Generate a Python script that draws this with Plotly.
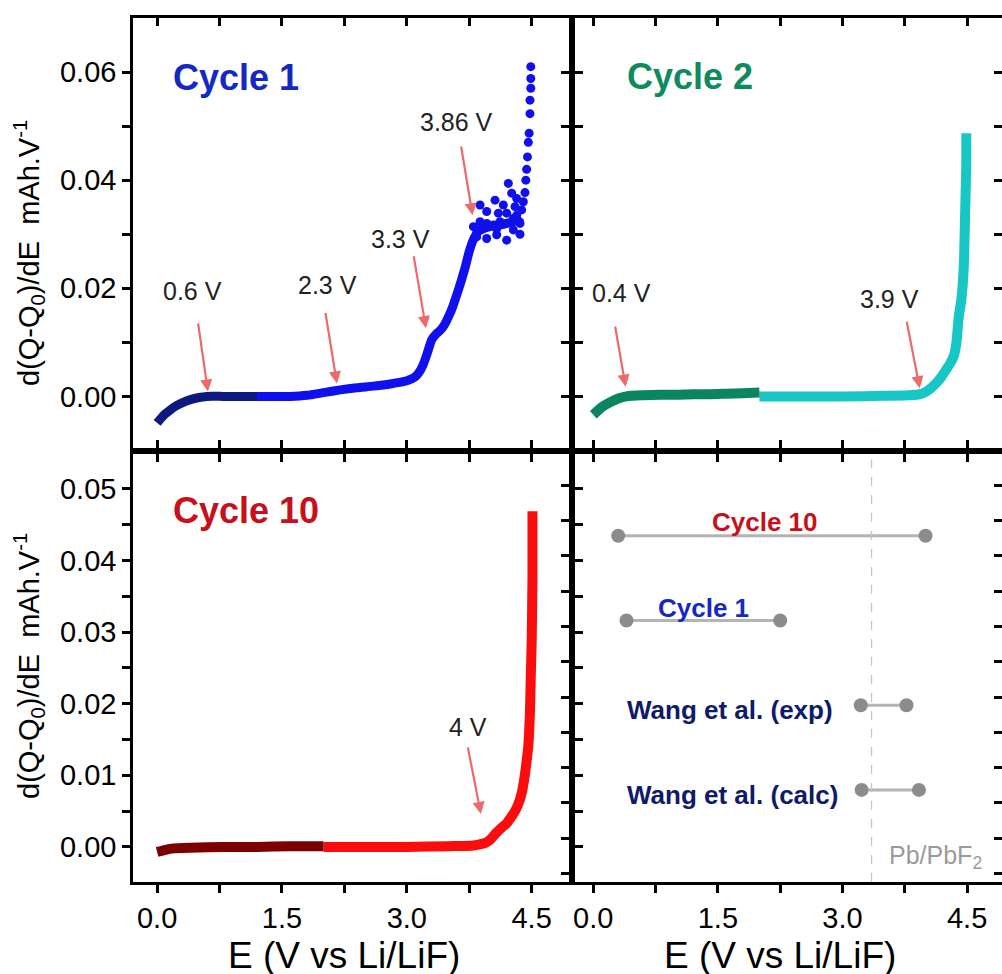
import plotly.graph_objects as go

FONT = "Liberation Sans, Arial, Helvetica, sans-serif"

# ---------------- data ----------------
# Cycle 1: dark segment (0 - 1.2 V)
c1_dark_E = [0.00, 0.05, 0.10, 0.15, 0.20, 0.30, 0.40, 0.50, 0.60, 0.80, 1.00, 1.20]
c1_dark_v = [-0.0049, -0.0040, -0.0032, -0.0026, -0.0020, -0.0012, -0.0006, -0.0002, 0.0000, 0.0000, 0.0000, 0.0000]
# Cycle 1: blue smooth segment
c1_E = [1.20, 1.40, 1.60, 1.80, 2.00, 2.20, 2.40, 2.60, 2.80, 3.00, 3.10, 3.15, 3.20, 3.25, 3.30,
        3.35, 3.40, 3.45, 3.50, 3.55, 3.60, 3.65, 3.70, 3.75, 3.80, 3.86, 3.95, 4.05, 4.15, 4.25, 4.33, 4.37]
c1_v = [0.0000, 0.0000, 0.0000, 0.0002, 0.0007, 0.0012, 0.0016, 0.0019, 0.0023, 0.0029, 0.0036, 0.0045,
        0.0060, 0.0082, 0.0105, 0.0115, 0.0122, 0.0132, 0.0147, 0.0165, 0.0188, 0.0212, 0.0238, 0.0268,
        0.0290, 0.0305, 0.0312, 0.0316, 0.0318, 0.0322, 0.0326, 0.0332]
# Cycle 1: scattered points (plateau and final rise)
c1_pts_E = [3.80, 3.84, 3.88, 3.96, 4.04, 4.08, 4.12, 4.20, 4.28, 4.32, 3.84, 3.96, 4.08, 4.20, 4.28,
            3.88, 3.96, 4.06, 4.10, 4.22, 4.26, 4.32, 4.30, 4.16, 4.20, 4.36, 4.36, 4.38, 4.40,
            4.42, 4.43, 4.44, 4.45, 4.46, 4.47, 4.48, 4.48, 4.49, 4.49, 4.49]
c1_pts_v = [0.0314, 0.0295, 0.0323, 0.0320, 0.0317, 0.0299, 0.0323, 0.0320, 0.0329, 0.0335, 0.0308, 0.0292,
            0.0310, 0.0289, 0.0308, 0.0354, 0.0342, 0.0363, 0.0339, 0.0394, 0.0376, 0.0366, 0.0351, 0.0354,
            0.0339, 0.0320, 0.0300, 0.0345, 0.0360, 0.0377, 0.0400, 0.0420, 0.0443, 0.0470, 0.0487, 0.0523,
            0.0548, 0.0570, 0.0588, 0.0610]

# Cycle 2
c2_dark_E = [0.00, 0.05, 0.10, 0.20, 0.30, 0.40, 0.60, 0.80, 1.00, 1.20, 1.40, 1.60, 1.80, 2.00]
c2_dark_v = [-0.0034, -0.0027, -0.0020, -0.0011, -0.0004, 0.0000, 0.0002, 0.0003, 0.0003, 0.0004,
             0.0004, 0.0005, 0.0006, 0.0007]
c2_E = [2.00, 2.50, 3.00, 3.50, 3.80, 3.89, 3.95, 4.01, 4.07, 4.13, 4.19, 4.25, 4.30, 4.34, 4.37,
        4.40, 4.43, 4.46, 4.47, 4.48, 4.49, 4.49]
c2_v = [0.0000, 0.0000, 0.0000, 0.0001, 0.0002, 0.0003, 0.0005, 0.0009, 0.0016, 0.0025, 0.0036, 0.0050,
        0.0062, 0.0075, 0.0098, 0.0148, 0.0178, 0.0240, 0.0300, 0.0363, 0.0430, 0.0487]

# Cycle 10
c10_dark_E = [0.00, 0.10, 0.20, 0.40, 0.80, 1.20, 1.60, 2.00]
c10_dark_v = [-0.0007, -0.0004, -0.0002, -0.0001, 0.0000, 0.0000, 0.0001, 0.0001]
c10_E = [2.00, 2.50, 3.00, 3.50, 3.80, 3.95, 4.00, 4.07, 4.14, 4.20, 4.25, 4.30, 4.34, 4.38, 4.41,
         4.44, 4.46, 4.48, 4.49, 4.50, 4.51, 4.51]
c10_v = [0.0000, 0.0000, 0.0000, 0.0001, 0.0002, 0.0006, 0.0010, 0.0019, 0.0027, 0.0033, 0.0041, 0.0050,
         0.0060, 0.0075, 0.0094, 0.0120, 0.0141, 0.0189, 0.0240, 0.0284, 0.0378, 0.0469]

# Ranges of redox activity (bottom-right panel)
range_labels = ["Cycle 10", "Cycle 1", "Wang et al. (exp)", "Wang et al. (calc)"]
range_rows = [4, 3, 2, 1]
range_lo = [0.30, 0.40, 3.22, 3.23]
range_hi = [4.00, 2.25, 3.77, 3.92]
pb_pbf2 = 3.35

# Peak annotations: (label, text E, text v, tail E, tail v, head E, head v)
ann_c1 = [("0.6 V", 0.42, 0.0195, 0.49, 0.0138, 0.61, 0.0009),
          ("2.3 V", 2.05, 0.0206, 2.02, 0.0157, 2.16, 0.0024),
          ("3.3 V", 2.93, 0.0292, 3.08, 0.0262, 3.23, 0.0126),
          ("3.86 V", 3.60, 0.0508, 3.65, 0.0465, 3.79, 0.0335)]
ann_c2 = [("0.4 V", 0.34, 0.0191, 0.26, 0.0132, 0.39, 0.0018),
          ("3.9 V", 3.57, 0.0181, 3.77, 0.0141, 3.93, 0.0015)]
ann_c10 = [("4 V", 3.74, 0.0167, 3.73, 0.0141, 3.89, 0.0046)]

# ---------------- figure ----------------
fig = go.Figure()

def line(x, y, color, width, xa, ya):
    fig.add_trace(go.Scatter(x=x, y=y, mode="lines",
                             line=dict(color=color, width=width, shape="spline", smoothing=0.6),
                             xaxis=xa, yaxis=ya, showlegend=False, hoverinfo="skip"))

line(c1_dark_E, c1_dark_v, "#0c1a80", 9, "x", "y")
line(c1_E, c1_v, "#1010ee", 9, "x", "y")
fig.add_trace(go.Scatter(x=c1_pts_E, y=c1_pts_v, mode="markers",
                         marker=dict(color="#1010ee", size=9, line=dict(width=0)),
                         xaxis="x", yaxis="y", showlegend=False))

line(c2_E, c2_v, "#19c6c6", 10, "x2", "y2")
line(c2_dark_E, c2_dark_v, "#0b8460", 10, "x2", "y2")

line(c10_E, c10_v, "#fb0d0d", 10, "x3", "y3")
line(c10_dark_E, c10_dark_v, "#7c0000", 10, "x3", "y3")

for lab, r, lo, hi in zip(range_labels, range_rows, range_lo, range_hi):
    fig.add_trace(go.Scatter(x=[lo, hi], y=[r, r], mode="lines+markers",
                             line=dict(color="#b4b4b4", width=3),
                             marker=dict(color="#8c8c8c", size=14),
                             xaxis="x4", yaxis="y4", showlegend=False))

# empty traces so that the extra (inward-tick) edge axes are drawn
for xa, ya in [("x5", "y"), ("x6", "y2"), ("x2", "y5"), ("x4", "y6")]:
    fig.add_trace(go.Scatter(x=[None], y=[None], xaxis=xa, yaxis=ya, showlegend=False,
                             hoverinfo="skip"))

# ---------------- axes ----------------
xl = [133 / 1002, 572 / 1002]
xr = [572 / 1002, 1.0]
yt = [1 - 451 / 974, 1 - 18 / 974]
yb = [1 - 882 / 974, 1 - 451 / 974]
XL_R = [-0.29, 4.985]
XR_R = [-0.256, 4.92]
YT_R = [-0.0101, 0.0700]
YB_R = [-0.0049, 0.0553]
Y4_R = [-0.087, 5.0]

ax_common = dict(showline=True, linecolor="black", linewidth=2.5, mirror="ticks",
                 ticks="outside", ticklen=8, tickwidth=2.5, tickcolor="black",
                 showgrid=False, zeroline=False,
                 tickfont=dict(family=FONT, size=29, color="black"))
edge_common = dict(showline=False, ticks="inside", ticklen=8, tickwidth=2.5, tickcolor="black",
                   showgrid=False, zeroline=False, showticklabels=False)

xt_vals = [0, 0.75, 1.5, 2.25, 3.0, 3.75, 4.5]
xt_text = ["0.0", "", "1.5", "", "3.0", "", "4.5"]
yt_vals = [0, 0.01, 0.02, 0.03, 0.04, 0.05, 0.06]

fig.update_layout(
    width=1002, height=974, margin=dict(l=0, r=0, t=0, b=0),
    paper_bgcolor="white", plot_bgcolor="white",
    xaxis=dict(ax_common, domain=xl, range=XL_R, anchor="y", mirror=True,
               tickvals=xt_vals, showticklabels=False),
    yaxis=dict(ax_common, domain=yt, range=YT_R, anchor="x",
               tickvals=yt_vals, ticktext=["0.00", "", "0.02", "", "0.04", "", "0.06"]),
    xaxis2=dict(ax_common, domain=xr, range=XR_R, anchor="y2", mirror=True,
                tickvals=xt_vals, showticklabels=False),
    yaxis2=dict(ax_common, domain=yt, range=YT_R, anchor="x2", mirror=False,
                tickvals=yt_vals, showticklabels=False),
    xaxis3=dict(ax_common, domain=xl, range=XL_R, anchor="y3",
                tickvals=xt_vals, ticktext=xt_text),
    yaxis3=dict(ax_common, domain=yb, range=YB_R, anchor="x3",
                tickvals=[0, 0.005, 0.01, 0.015, 0.02, 0.025, 0.03, 0.035, 0.04, 0.045, 0.05],
                ticktext=["0.00", "", "0.01", "", "0.02", "", "0.03", "", "0.04", "", "0.05"]),
    xaxis4=dict(ax_common, domain=xr, range=XR_R, anchor="y4",
                tickvals=xt_vals, ticktext=xt_text),
    yaxis4=dict(ax_common, domain=yb, range=Y4_R, anchor="x4", mirror=False,
                tick0=0.43, dtick=0.4166, showticklabels=False),
    # inward ticks on the outer top / right edges
    xaxis5=dict(edge_common, overlaying="x", side="top", anchor="y", range=XL_R, tickvals=xt_vals),
    xaxis6=dict(edge_common, overlaying="x2", side="top", anchor="y2", range=XR_R, tickvals=xt_vals),
    yaxis5=dict(edge_common, overlaying="y2", side="right", anchor="x2", range=YT_R, tickvals=yt_vals),
    yaxis6=dict(edge_common, overlaying="y4", side="right", anchor="x4", range=Y4_R,
                tick0=0.43, dtick=0.4166),
)

# dashed Pb/PbF2 line
fig.add_shape(type="line", xref="x4", yref="y4 domain", x0=pb_pbf2, x1=pb_pbf2, y0=0, y1=0.98,
              line=dict(color="#c4c4c4", width=1.2, dash="dash"))

ann = []
def txt(x, y, text, xref, yref, size, color, bold=False, xanchor="center", yanchor="middle", angle=0):
    ann.append(dict(x=x, y=y, xref=xref, yref=yref, text=("<b>%s</b>" % text) if bold else text,
                    showarrow=False, xanchor=xanchor, yanchor=yanchor, textangle=angle,
                    font=dict(family=FONT, size=size, color=color)))

# panel titles
txt(0.17, 0.0590, "Cycle 1", "x", "y", 36, "#1428c4", bold=True, xanchor="left")
txt(0.38, 0.0592, "Cycle 2", "x2", "y2", 36, "#0d8a5e", bold=True, xanchor="left")
txt(0.17, 0.0470, "Cycle 10", "x3", "y3", 36, "#c8101a", bold=True, xanchor="left")

# peak annotations
ARROW = "#ec6a6a"
for group, xa, ya in [(ann_c1, "x", "y"), (ann_c2, "x2", "y2"), (ann_c10, "x3", "y3")]:
    for lab, tx, ty, ax_, ay_, hx, hy in group:
        txt(tx, ty, lab, xa, ya, 25, "#222222")
        ann.append(dict(x=hx, y=hy, ax=ax_, ay=ay_, xref=xa, yref=ya, axref=xa, ayref=ya,
                        text="", showarrow=True, arrowhead=2, arrowsize=1.1, arrowwidth=2.2,
                        arrowcolor=ARROW, font=dict(size=10)))

# bottom-right labels
lab_colors = ["#c8101a", "#1428c4", "#0e1a6a", "#0e1a6a"]
lab_x = [2.07, 1.33, 0.38, 0.38]
lab_anchor = ["center", "center", "left", "left"]
lab_dy = [0.16, 0.15, -0.06, -0.06]
for lab, r, c, lx, xa_, dy in zip(range_labels, range_rows, lab_colors, lab_x, lab_anchor, lab_dy):
    txt(lx, r + dy, lab, "x4", "y4", 26, c, bold=True, xanchor=xa_)
txt(3.53, 0.21, "Pb/PbF<sub>2</sub>", "x4", "y4", 25, "#9a9a9a", xanchor="left")

# axis titles
ytitle = "d(Q-Q<sub>0</sub>)/dE  mAh.V<sup>-1</sup>"
txt(29 / 1002, 1 - 253 / 974, ytitle, "paper", "paper", 29, "black", angle=-90)
txt(29 / 1002, 1 - 666 / 974, ytitle, "paper", "paper", 29, "black", angle=-90)
txt(2.25, 1 - 955 / 974, "E (V vs Li/LiF)", "x3", "paper", 37, "black")
txt(2.25, 1 - 955 / 974, "E (V vs Li/LiF)", "x4", "paper", 37, "black")

fig.update_layout(annotations=ann)
fig.write_html("out.html", config={"displayModeBar": False},
               post_script="document.body.style.margin='0px';document.body.style.overflow='hidden';")
